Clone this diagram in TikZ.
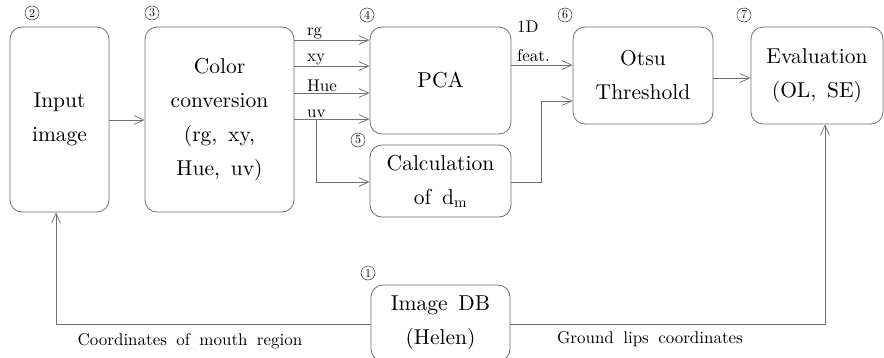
\documentclass[tikz,border=0pt]{standalone}
\usepackage{fontspec}
\setmainfont{lmroman10-regular.otf}
\usetikzlibrary{arrows.meta,calc}

\definecolor{linegray}{HTML}{6E6E6E}
\newcommand\boxfont{\fontsize{21.5}{34}\selectfont\spaceskip=0.5em plus 0.1em}
\newcommand\lblfont{\fontsize{17}{30}\selectfont\spaceskip=0.55em plus 0.1em}

\begin{document}
\begin{tikzpicture}[x=1pt, y=-1pt,
    blk/.style={draw=linegray, line width=0.8pt, rounded corners=12pt,
        align=center, font=\boxfont, inner sep=0pt},
    flow/.style={draw=linegray, line width=0.8pt,
        -{Straight Barb[length=10pt,width=9pt,line width=0.7pt]}},
    num/.style={circle, draw=black!80, line width=0.5pt, minimum size=14pt,
        inner sep=0pt, font=\fontsize{12}{12}\selectfont},
    lbl/.style={font=\lblfont, inner sep=1pt}]
        % --- 1. Canvas ---
        \useasboundingbox (0,0) rectangle (884,357);

        % --- 2. Blocks ---
        \node[blk, minimum width=99pt, minimum height=185pt] (inp) at (59.5,119.5) {Input\\image};
        \node[blk, minimum width=149pt, minimum height=185pt] (col) at (219.5,119.5) {Color\\conversion\\(rg, xy,\\Hue, uv)};
        \node[blk, minimum width=141pt, minimum height=107pt] (pca) at (440.5,80.5) {PCA};
        \node[blk, minimum width=141pt, minimum height=72pt] (calc) at (440.5,181) {Calculation\\of d\textsubscript{m}};
        \node[blk, minimum width=140pt, minimum height=97pt] (otsu) at (643,75.5) {Otsu\\Threshold};
        \node[blk, minimum width=132pt, minimum height=97pt] (eval) at (817,75.5) {Evaluation\\(OL, SE)};
        \node[blk, minimum width=139pt, minimum height=76pt] (db) at (440.5,323) {Image DB\\(Helen)};

        % Step numbers
        \node[num] (n1) at (368,273) {1};
        \node[num] (n2) at (32,13) {2};
        \node[num] (n3) at (152,13) {3};
        \node[num] (n4) at (367,15) {4};
        \node[num] (n5) at (358,140) {5};
        \node[num] (n6) at (565,15) {6};
        \node[num] (n7) at (744,15) {7};

        % --- 3. Channel levels ---
        \coordinate (rgY) at (0,40);
        \coordinate (xyY) at (0,66);
        \coordinate (hueY) at (0,93);
        \coordinate (uvY) at (0,119);
        \coordinate (uvB) at (316,119);
        \coordinate (dmK) at (541,182);

        % --- 4. Connectors ---
        \draw[flow] (inp.east |- 0,120) -- (col.west |- 0,120);
        \draw[flow] (col.east |- rgY) -- node[lbl, pos=0.15, anchor=south west] {rg} (pca.west |- rgY);
        \draw[flow] (col.east |- xyY) -- node[lbl, pos=0.15, anchor=south west] {xy} (pca.west |- xyY);
        \draw[flow] (col.east |- hueY) -- node[lbl, pos=0.15, anchor=south west] {Hue} (pca.west |- hueY);
        \draw[flow] (col.east |- uvY) -- node[lbl, pos=0.15, anchor=south west] {uv} (pca.west |- uvY);
        \draw[flow] (uvB) |- (calc.west |- dmK);
        \draw[flow] (pca.east |- 0,65) -- (otsu.west |- 0,65);
        \node[lbl, anchor=west] (oneD) at (516,27) {1D};
        \node[lbl, anchor=west] (feat) at (516,56) {feat.};
        \draw[flow] (calc.east |- dmK) -- (dmK) |- (otsu.west |- 0,101);
        \draw[flow] (otsu.east |- 0,78) -- (eval.west |- 0,78);

        % Feedback from the database
        \draw[flow] (db.west |- 0,324) -| (inp.south -| 56,0);
        \draw[flow] (db.east |- 0,324) -| (eval.south -| 825,0);
        \node[lbl] (mouth) at (190,341) {Coordinates of mouth region};
        \node[lbl] (lips) at (650,339) {Ground lips coordinates};
    \end{tikzpicture}
\end{document}
